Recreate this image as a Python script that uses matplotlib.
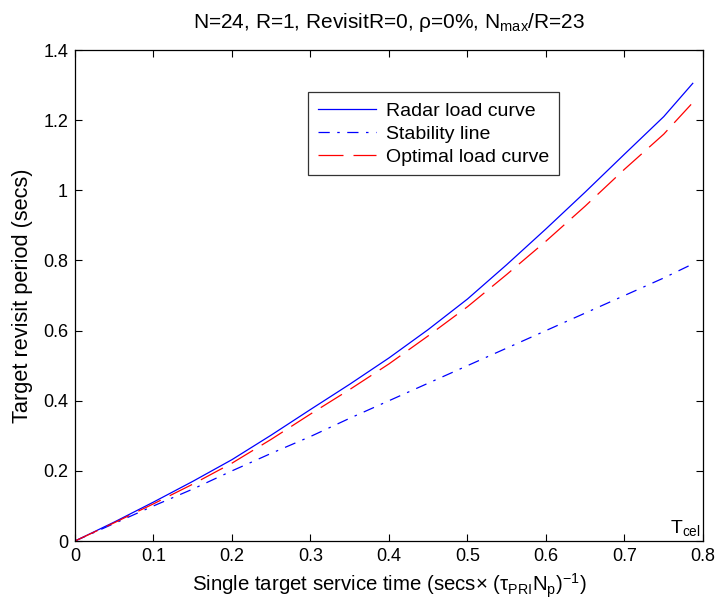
import matplotlib
matplotlib.use("Agg")
import matplotlib.pyplot as plt
from matplotlib.lines import Line2D

plt.rcParams['font.family'] = ['Liberation Sans', 'DejaVu Sans']
plt.rcParams['mathtext.fontset'] = 'custom'
plt.rcParams['mathtext.rm'] = 'Liberation Sans'
plt.rcParams['mathtext.it'] = 'Liberation Sans:italic'
plt.rcParams['mathtext.bf'] = 'Liberation Sans:bold'

# Data
service_time = [0, 0.05, 0.1, 0.15, 0.2, 0.25, 0.3, 0.35, 0.4, 0.45, 0.5,
                0.55, 0.6, 0.65, 0.7, 0.75, 0.787]
radar_load = [0, 0.054, 0.111, 0.17, 0.232, 0.302, 0.375, 0.447, 0.522, 0.603,
              0.69, 0.788, 0.89, 0.995, 1.103, 1.21, 1.305]
stability = [0, 0.05, 0.1, 0.148, 0.2, 0.25, 0.298, 0.35, 0.4, 0.45, 0.5,
             0.55, 0.6, 0.65, 0.7, 0.75, 0.79]
optimal_load = [0, 0.052, 0.106, 0.162, 0.222, 0.29, 0.362, 0.432, 0.505,
                0.585, 0.668, 0.76, 0.855, 0.955, 1.06, 1.16, 1.25]

labels = ["Radar load curve", "Stability line", "Optimal load curve"]
xticks = [0, 0.1, 0.2, 0.3, 0.4, 0.5, 0.6, 0.7, 0.8]
yticks = [0, 0.2, 0.4, 0.6, 0.8, 1.0, 1.2, 1.4]
xtick_labels = ["0", "0.1", "0.2", "0.3", "0.4", "0.5", "0.6", "0.7", "0.8"]
ytick_labels = ["0", "0.2", "0.4", "0.6", "0.8", "1", "1.2", "1.4"]

fig = plt.figure(figsize=(7.23, 6.10), dpi=100)
ax = fig.add_axes([0.1037, 0.1131, 0.8686, 0.8049])

fs = 13

l1, = ax.plot(service_time, radar_load, color='#0000ff', lw=0.9, label=labels[0])
l2, = ax.plot(service_time, stability, color='#0000ff', lw=0.9, label=labels[1])
l2.set_dashes([9, 6, 2, 6])
l3, = ax.plot(service_time, optimal_load, color='#ff0000', lw=0.9, label=labels[2])
l3.set_dashes([20, 8])

ax.set_xlim(0, 0.8)
ax.set_ylim(0, 1.4)
ax.set_xticks(xticks)
ax.set_xticklabels(xtick_labels)
ax.set_yticks(yticks)
ax.set_yticklabels(ytick_labels)
ax.tick_params(direction='in', top=True, right=True, length=5, width=0.8,
               labelsize=fs, pad=5)
for s in ax.spines.values():
    s.set_linewidth(0.9)

ax.set_title("N=24, R=1, RevisitR=0, ρ=0%, N$_{\\mathrm{max}}$/R=23",
             fontsize=15, pad=16)
ax.set_xlabel("Single target service time (secs× (τ$_{\\mathrm{PRI}}$N$_{\\mathrm{p}}$)$^{\\mathrm{-1}}$)",
              fontsize=14.7, labelpad=5)
ax.set_ylabel("Target revisit period (secs)", fontsize=15.7, labelpad=7)

ax.text(0.797, 0.008, "T$_{\\mathrm{cel}}$", ha='right', va='bottom', fontsize=fs + 1)

h1 = Line2D([], [], color='#0000ff', lw=0.9)
h2 = Line2D([], [], color='#0000ff', lw=0.9, dashes=[9, 6, 2, 6])
h3 = Line2D([], [], color='#ff0000', lw=0.9, dashes=[20, 8])
leg = ax.legend([h1, h2, h3], labels, loc='upper left',
                bbox_to_anchor=(0.371, 0.914), fontsize=14, frameon=True,
                fancybox=False, edgecolor='black', handlelength=3.0,
                borderpad=0.5, labelspacing=0.28, handletextpad=0.5,
                borderaxespad=0)
leg.get_frame().set_linewidth(0.9)

fig.savefig("out.png", dpi=100)
